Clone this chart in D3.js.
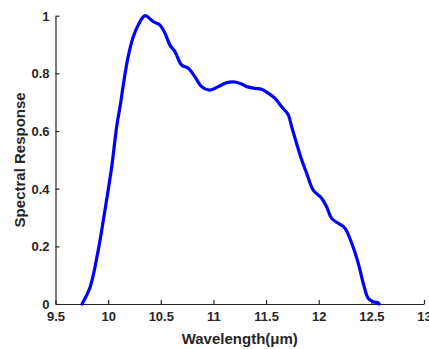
<!DOCTYPE html>
<html><head><meta charset="utf-8">
<script src="https://cdn.jsdelivr.net/npm/d3@7"></script>
<style>body{margin:0;background:#fff}svg{display:block}text{font-family:"Liberation Sans",Arial,sans-serif;font-weight:bold;fill:#262626}</style>
</head><body><svg id="c" width="429" height="349"></svg>
<script>
const wavelength = [9.752,9.83,9.906,9.97,10.034,10.081,10.119,10.144,10.19,10.239,10.286,10.35,10.43,10.49,10.54,10.587,10.635,10.698,10.761,10.825,10.888,10.967,11.046,11.126,11.205,11.268,11.316,11.395,11.458,11.521,11.585,11.648,11.711,11.743,11.79,11.838,11.886,11.948,12.028,12.075,12.123,12.186,12.249,12.313,12.376,12.423,12.47,12.518,12.565,12.575];
const response   = [0,0.06,0.187,0.326,0.476,0.615,0.698,0.76,0.858,0.927,0.968,1.0,0.979,0.968,0.939,0.898,0.875,0.829,0.818,0.788,0.754,0.742,0.754,0.768,0.77,0.763,0.754,0.748,0.745,0.731,0.713,0.684,0.656,0.615,0.557,0.5,0.453,0.395,0.367,0.337,0.297,0.28,0.263,0.211,0.141,0.072,0.02,0.008,0.004,0];
const xTicks = [9.5,10,10.5,11,11.5,12,12.5,13];
const yTicks = [0,0.2,0.4,0.6,0.8,1];
const xLabel = "Wavelength(μm)";
const yLabel = "Spectral Response";

const svg = d3.select("#c");
const x = d3.scaleLinear().domain([9.5,13]).range([55.5, 424]);
const y = d3.scaleLinear().domain([0,1]).range([304, 15.7]);

const gx = svg.append("g").attr("transform",`translate(0,${y(0)})`)
  .call(d3.axisBottom(x).tickValues(xTicks).tickFormat(d=>d3.format("")(d)).tickSizeInner(-4).tickSizeOuter(0).tickPadding(8));
const gy = svg.append("g").attr("transform",`translate(${x(9.5)},0)`)
  .call(d3.axisLeft(y).tickValues(yTicks).tickFormat(d=>d3.format("")(d)).tickSizeInner(-4).tickSizeOuter(0).tickPadding(6));
[gx,gy].forEach(g=>{
  g.selectAll("path,line").attr("stroke","#262626").attr("stroke-width",1.2);
  g.selectAll("text").style("font-size","13px").attr("fill","#262626").style("font-family","Liberation Sans, Arial, sans-serif").style("font-weight","bold");
});
gy.selectAll("text").attr("dy","0.35em");

const pts = wavelength.map((w,i)=>[w,response[i]]);
svg.append("path").datum(pts)
  .attr("fill","none").attr("stroke","#0000ff").attr("stroke-width",3.2).attr("stroke-linejoin","round").attr("stroke-linecap","round")
  .attr("d", d3.line().x(d=>x(d[0])).y(d=>y(d[1])).curve(d3.curveCatmullRom.alpha(0.5)));

svg.append("text").attr("x",(x(9.5)+x(13))/2).attr("y",344).attr("text-anchor","middle").style("font-size","15px").text(xLabel);
svg.append("text").attr("transform",`translate(25,${(y(0)+y(1))/2}) rotate(-90)`).attr("text-anchor","middle").style("font-size","15px").text(yLabel);
</script></body></html>
